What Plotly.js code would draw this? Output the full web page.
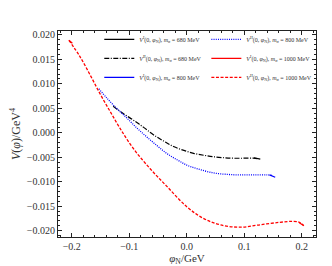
<!DOCTYPE html>
<html>
<head>
<meta charset="utf-8">
<script src="https://cdn.plot.ly/plotly-3.0.1.min.js"></script>
<style>html,body{margin:0;padding:0;background:#fff;}#chart{width:332px;height:266px;}</style>
</head>
<body>
<div id="chart"></div>
<script>
// V^II, m_sigma = 680 MeV (dash-dot black)
const x680II = [-0.128, -0.110, -0.093, -0.075, -0.058, -0.040, -0.023, -0.005, 0.012, 0.030, 0.046, 0.064, 0.081, 0.100, 0.116, 0.124];
const y680II = [0.0054, 0.0039, 0.0026, 0.0011, -0.0004, -0.0017, -0.0028, -0.0036, -0.0042, -0.0046, -0.0049, -0.0051, -0.0052, -0.0052, -0.0052, -0.0053];
// V^I, m_sigma = 680 MeV (solid black, short branch)
const x680I = [0.117, 0.128];
const y680I = [-0.0051, -0.0054];
// V^II, m_sigma = 800 MeV (dotted blue)
const x800II = [-0.153, -0.139, -0.122, -0.104, -0.087, -0.070, -0.052, -0.035, -0.017, 0.0, 0.017, 0.035, 0.052, 0.070, 0.087, 0.104, 0.122, 0.139, 0.148];
const y800II = [0.0090, 0.0071, 0.0050, 0.0030, 0.0010, -0.0008, -0.0026, -0.0042, -0.0055, -0.0066, -0.0073, -0.0079, -0.0083, -0.0085, -0.0086, -0.0086, -0.0086, -0.0086, -0.0087];
// V^I, m_sigma = 800 MeV (solid blue, short branch)
const x800I = [0.144, 0.154];
const y800I = [-0.0086, -0.0091];
// V^II, m_sigma = 1000 MeV (dashed red)
const x1000II = [-0.205, -0.186, -0.168, -0.151, -0.133, -0.116, -0.093, -0.064, -0.035, 0.0, 0.029, 0.058, 0.093, 0.128, 0.162, 0.185, 0.196, 0.203];
const y1000II = [0.0189, 0.0156, 0.0118, 0.0080, 0.0043, 0.0009, -0.0032, -0.0073, -0.0109, -0.0151, -0.0175, -0.0188, -0.0193, -0.0188, -0.0183, -0.0181, -0.0183, -0.0189];
// V^I, m_sigma = 1000 MeV (solid red, short branches at both ends)
const x1000I = [-0.205, -0.199, null, 0.196, 0.204];
const y1000I = [0.0189, 0.0183, null, -0.0184, -0.0190];

const names = {
  I680: '<i>V</i><sup>I</sup>(0, <i>φ</i><sub>N</sub>), <i>m</i><sub>σ</sub> = 680 MeV',
  II680: '<i>V</i><sup>II</sup>(0, <i>φ</i><sub>N</sub>), <i>m</i><sub>σ</sub> = 680 MeV',
  I800: '<i>V</i><sup>I</sup>(0, <i>φ</i><sub>N</sub>), <i>m</i><sub>σ</sub> = 800 MeV',
  II800: '<i>V</i><sup>II</sup>(0, <i>φ</i><sub>N</sub>), <i>m</i><sub>σ</sub> = 800 MeV',
  I1000: '<i>V</i><sup>I</sup>(0, <i>φ</i><sub>N</sub>), <i>m</i><sub>σ</sub> = 1000 MeV',
  II1000: '<i>V</i><sup>II</sup>(0, <i>φ</i><sub>N</sub>), <i>m</i><sub>σ</sub> = 1000 MeV'
};

const traces = [
  {x: x680I, y: y680I, name: names.I680, legend: 'legend', mode: 'lines', line: {color: '#000000', width: 1.2}},
  {x: x680II, y: y680II, name: names.II680, legend: 'legend', mode: 'lines', line: {color: '#000000', width: 1.2, dash: '5px,1.5px,1px,1.5px', shape: 'spline'}},
  {x: x800I, y: y800I, name: names.I800, legend: 'legend', mode: 'lines', line: {color: '#0000ff', width: 1.2}},
  {x: x800II, y: y800II, name: names.II800, legend: 'legend2', mode: 'lines', line: {color: '#0000ff', width: 1.3, dash: '1px,1.2px', shape: 'spline'}},
  {x: x1000I, y: y1000I, name: names.I1000, legend: 'legend2', mode: 'lines', line: {color: '#ff0000', width: 1.3}, connectgaps: false},
  {x: x1000II, y: y1000II, name: names.II1000, legend: 'legend2', mode: 'lines', line: {color: '#ff0000', width: 1.3, dash: '3px,1.6px', shape: 'spline'}}
];

const serif = 'Liberation Serif, DejaVu Serif, serif';
const legendCommon = {
  orientation: 'v', xanchor: 'left', yanchor: 'top', y: 1.03,
  tracegroupgap: 0, bgcolor: 'rgba(0,0,0,0)', borderwidth: 0,
  font: {family: serif, size: 6, color: '#333'}
};

const axisCommon = {
  showline: true, linecolor: '#222', linewidth: 1, mirror: 'allticks',
  ticks: 'inside', ticklen: 4, tickcolor: '#222', tickwidth: 1,
  showgrid: false, zeroline: false,
  tickfont: {family: serif, size: 10, color: '#333'}
};

const layout = {
  width: 332, height: 266,
  margin: {l: 58, r: 16, t: 31, b: 29},
  paper_bgcolor: '#fff', plot_bgcolor: '#fff',
  showlegend: true,
  legend: Object.assign({}, legendCommon, {x: 0.16}),
  legend2: Object.assign({}, legendCommon, {x: 0.575}),
  xaxis: Object.assign({}, axisCommon, {
    range: [-0.224, 0.225], dtick: 0.1, tick0: 0, tickformat: '.1f',
    minor: {ticks: 'inside', ticklen: 2, tickcolor: '#222', dtick: 0.02, showgrid: false},
    title: {text: '<i>φ</i><sub>N</sub>/GeV', font: {family: serif, size: 11, color: '#333'}, standoff: 2}
  }),
  yaxis: Object.assign({}, axisCommon, {
    range: [-0.0213, 0.0208], dtick: 0.005, tick0: 0, tickformat: '.3f',
    minor: {ticks: 'inside', ticklen: 2, tickcolor: '#222', dtick: 0.001, showgrid: false},
    title: {text: '<i>V</i>(<i>φ</i>)/GeV<sup>4</sup>', font: {family: serif, size: 12, color: '#333'}, standoff: 3}
  })
};

Plotly.newPlot('chart', traces, layout, {displayModeBar: false, staticPlot: true});
</script>
</body>
</html>
